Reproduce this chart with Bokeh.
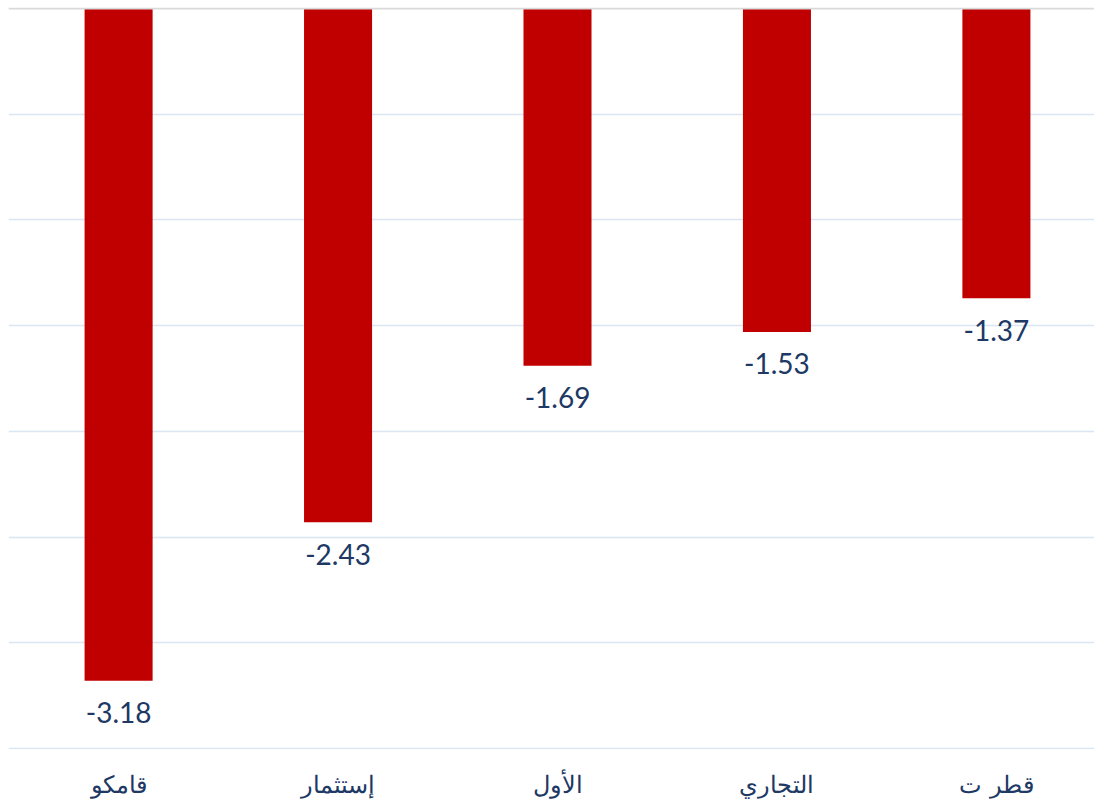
from bokeh.plotting import figure
from bokeh.models import ColumnDataSource, Range1d, FixedTicker, Span
from bokeh.core.properties import value
from bokeh.embed import file_html
from bokeh.resources import INLINE

categories = ["قامكو", "إستثمار", "الأول", "التجاري", "قطر ت"]
values = [-3.18, -2.43, -1.69, -1.53, -1.37]
value_labels = ["-3.18", "-2.43", "-1.69", "-1.53", "-1.37"]
y_ticks = [0, -0.5, -1.0, -1.5, -2.0, -2.5, -3.0, -3.5]

xs = list(range(len(categories)))
src = ColumnDataSource(dict(x=xs, top=[0] * len(xs), bottom=values, lab=value_labels))

p = figure(frame_width=1086, frame_height=742, output_backend="svg", toolbar_location=None,
           x_range=Range1d(-0.5017, 4.447), y_range=Range1d(-3.5047, 0.0047),
           min_border_left=8, min_border_right=0, min_border_top=7, min_border_bottom=0)
p.outline_line_color = None
p.background_fill_color = "white"

p.ygrid.ticker = FixedTicker(ticks=y_ticks[1:])
p.ygrid.grid_line_color = "#DCE6F2"
p.ygrid.grid_line_width = 1.5
p.xgrid.visible = False
p.yaxis.visible = False

top_line = Span(location=0, dimension="width", line_color="#D9D9D9", line_width=2)
p.add_layout(top_line)

p.vbar(x="x", top="top", bottom="bottom", width=0.31, source=src,
       fill_color="#C00000", line_color=None)

p.text(x="x", y="bottom", text="lab", source=src, text_align="center",
       text_baseline="middle", y_offset=32, text_color="#203864",
       text_font=value("Lato"), text_font_size="28px")

p.xaxis.ticker = FixedTicker(ticks=xs)
p.xaxis.major_label_overrides = {i: c for i, c in enumerate(categories)}
p.xaxis.axis_line_color = None
p.xaxis.major_tick_line_color = None
p.xaxis.minor_tick_line_color = None
p.xaxis.major_tick_out = 0
p.xaxis.major_tick_in = 0
p.xaxis.major_label_standoff = 21
p.xaxis.major_label_text_font = "DejaVu Serif"
p.xaxis.major_label_text_font_size = "24px"
p.xaxis.major_label_text_color = "#203864"

open("out.html", "w").write(file_html(p, INLINE))
